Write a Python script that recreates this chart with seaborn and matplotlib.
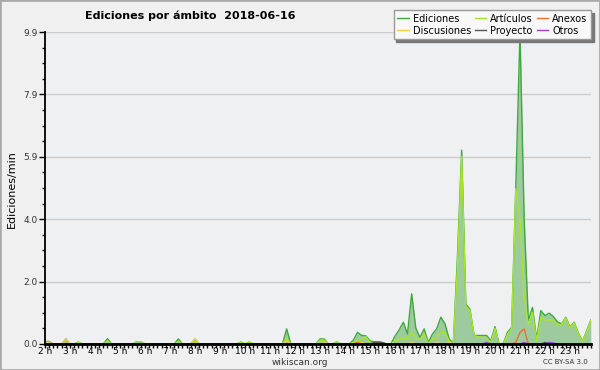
import numpy as np
import pandas as pd
import matplotlib
matplotlib.use("Agg")
import matplotlib.pyplot as plt
from matplotlib.lines import Line2D
from matplotlib.patches import Rectangle
import seaborn as sns

# 10-minute steps from 02:00 to 23:50, one row per hour (6 values)
ediciones = [
    [0.08, 0.08, 0, 0, 0, 0.16],          # 2 h
    [0, 0, 0.06, 0, 0, 0],                # 3 h
    [0, 0, 0, 0.17, 0, 0],                # 4 h
    [0, 0, 0, 0, 0.07, 0.07],             # 5 h
    [0, 0, 0, 0, 0, 0],                   # 6 h
    [0, 0, 0.16, 0, 0, 0],                # 7 h
    [0.16, 0, 0, 0, 0, 0],                # 8 h
    [0, 0, 0, 0, 0, 0.06],                # 9 h
    [0, 0.06, 0, 0, 0, 0],                # 10 h
    [0, 0, 0, 0, 0.48, 0],                # 11 h
    [0, 0, 0, 0, 0, 0],                   # 12 h
    [0.16, 0.16, 0, 0, 0.07, 0],          # 13 h
    [0, 0, 0.12, 0.37, 0.27, 0.26],       # 14 h
    [0.1, 0.07, 0.07, 0.05, 0, 0],        # 15 h
    [0.25, 0.45, 0.69, 0.32, 1.59, 0.5],  # 16 h
    [0.21, 0.48, 0.05, 0.32, 0.48, 0.85], # 17 h
    [0.64, 0.16, 0.02, 2.8, 6.15, 1.27],  # 18 h
    [1.1, 0.27, 0.27, 0.27, 0.27, 0.1],   # 19 h
    [0.55, 0.0, 0.02, 0.37, 0.53, 5.0],   # 20 h
    [9.9, 4.0, 0.75, 1.16, 0.16, 1.06],   # 21 h
    [0.9, 0.98, 0.87, 0.7, 0.64, 0.85],   # 22 h
    [0.53, 0.69, 0.35, 0.08, 0.42, 0.76], # 23 h
]
articulos = [
    [0, 0, 0, 0, 0, 0],
    [0, 0, 0.06, 0, 0, 0],
    [0, 0, 0, 0.1, 0, 0],
    [0, 0, 0, 0, 0.07, 0.07],
    [0, 0, 0, 0, 0, 0],
    [0, 0, 0.08, 0, 0, 0],
    [0.05, 0, 0, 0, 0, 0],
    [0, 0, 0, 0, 0, 0.06],
    [0, 0.06, 0, 0, 0, 0],
    [0, 0, 0, 0, 0.18, 0],
    [0, 0, 0, 0, 0, 0],
    [0.12, 0.12, 0, 0, 0.07, 0],
    [0, 0, 0.05, 0.1, 0.15, 0.23],
    [0.05, 0.02, 0.02, 0.02, 0, 0],
    [0.1, 0.15, 0.2, 0.15, 0.37, 0.15],
    [0.15, 0.32, 0.0, 0.16, 0.2, 0.37],
    [0.37, 0.1, 0.0, 2.5, 5.95, 1.2],
    [1.05, 0.27, 0.22, 0.22, 0.2, 0.05],
    [0.5, 0.0, 0.0, 0.3, 0.5, 4.93],
    [4.0, 1.5, 0.6, 1.0, 0.1, 0.85],
    [0.76, 0.76, 0.76, 0.6, 0.62, 0.83],
    [0.5, 0.67, 0.33, 0.06, 0.4, 0.75],
]
# sparse series: time of the bump and its value
discusiones_t = ["02:00", "02:10", "02:50", "08:00", "11:40", "13:10", "14:40", "16:40", "17:40", "18:10"]
discusiones_v = [0.06, 0.06, 0.16, 0.16, 0.1, 0.04, 0.05, 0.05, 0.05, 0.05]
anexos_t = ["14:30", "20:50", "21:00", "21:10"]
anexos_v = [0.05, 0.05, 0.37, 0.48]
proyecto_t = ["15:10", "15:20", "15:30", "22:00"]
proyecto_v = [0.05, 0.06, 0.04, 0.05]
otros_t = ["19:40", "21:10", "22:10", "22:20"]
otros_v = [0.05, 0.05, 0.05, 0.03]

hour_labels = [f"{h} h" for h in range(2, 24)]
y_labels = ["0.0", "2.0", "4.0", "5.9", "7.9", "9.9"]

n = 132
t = 2 + np.arange(n) / 6


def sparse(times, vals):
    arr = np.zeros(n)
    for s, v in zip(times, vals):
        h, m = map(int, s.split(":"))
        arr[(h - 2) * 6 + m // 10] = v
    return arr


series = {
    "Ediciones": np.array(ediciones).ravel(),
    "Artículos": np.array(articulos).ravel(),
    "Discusiones": sparse(discusiones_t, discusiones_v),
    "Anexos": sparse(anexos_t, anexos_v),
    "Proyecto": sparse(proyecto_t, proyecto_v),
    "Otros": sparse(otros_t, otros_v),
}
colores = {
    "Ediciones": "#3fa83f",
    "Artículos": "#a8e62a",
    "Discusiones": "#f0d040",
    "Anexos": "#f07030",
    "Proyecto": "#555555",
    "Otros": "#9a3ee0",
}

df = pd.concat([pd.DataFrame({"t": t, "v": v, "serie": k}) for k, v in series.items()])

fig = plt.figure(figsize=(6, 3.7), dpi=100, facecolor="#f0f0f0")
ax = fig.add_axes([0.075, 0.0703, 0.9097, 0.843], facecolor="#eff0f1")

ax.fill_between(t, series["Ediciones"], color="#9dcb9d", lw=0, zorder=1)
sns.lineplot(data=df, x="t", y="v", hue="serie", hue_order=list(series.keys()),
             palette=colores, linewidth=1, legend=False, ax=ax, zorder=2)

ax.set_xlim(2, t[-1])
ax.set_ylim(0, 9.9)
ax.set_xlabel("")
ax.set_ylabel("")

ax.set_xticks(range(2, 24))
ax.set_xticklabels(hour_labels, fontsize=6.5)
ax.set_xticks(t, minor=True)
ax.set_yticks(np.linspace(0, 9.9, 6))
ax.set_yticklabels(y_labels, fontsize=6.5, color="#333333")
ax.set_yticks(np.linspace(0, 9.9, 21), minor=True)
ax.tick_params(axis="x", which="both", length=3, width=1, pad=-0.5)
ax.tick_params(axis="y", which="major", length=4, width=1, pad=1)
ax.tick_params(axis="y", which="minor", length=2.5, width=1)
ax.grid(axis="y", which="major", color="#cccccc", lw=1)
ax.set_axisbelow(True)

for s in ["top", "right"]:
    ax.spines[s].set_visible(False)
ax.spines["left"].set_linewidth(1.3)
ax.spines["bottom"].set_linewidth(2)

fig.text(0.142, 0.957, "Ediciones por ámbito  2018-06-16", fontsize=8,
         fontweight="bold", ha="left", va="center")
fig.text(0.02, 0.49, "Ediciones/min", rotation=90, fontsize=8, ha="center", va="center")
fig.text(0.5, 0.021, "wikiscan.org", fontsize=6.5, ha="center", va="center", color="#333333")
fig.text(0.942, 0.021, "CC BY-SA 3.0", fontsize=5, ha="center", va="center", color="#333333")

leg_order = ["Ediciones", "Discusiones", "Artículos", "Proyecto", "Anexos", "Otros"]
handles = [Line2D([], [], color=colores[k], lw=1) for k in leg_order]
leg = fig.legend(handles, leg_order, ncol=3, loc="upper right", bbox_to_anchor=(0.993, 0.985),
                 fontsize=7, frameon=True, fancybox=False,
                 shadow={"color": "#777777", "alpha": 1},
                 edgecolor="#999999", facecolor="#f8f8f8", framealpha=1,
                 handlelength=1.2, columnspacing=0.4, handletextpad=0.4,
                 labelspacing=0.2, borderpad=0.35)

fig.patches.append(Rectangle((0, 0), 1, 1, transform=fig.transFigure, fill=False,
                             edgecolor="#aaaaaa", lw=2))

fig.savefig("out.png", dpi=100, facecolor=fig.get_facecolor())
